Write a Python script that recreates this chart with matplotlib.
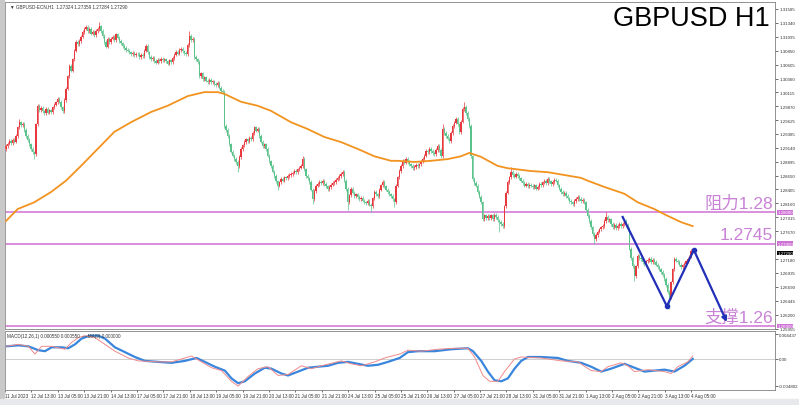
import numpy as np
import matplotlib.pyplot as plt
from matplotlib.patches import Rectangle

plt.rcParams['font.family'] = ['Liberation Sans', 'Noto Sans CJK SC', 'DejaVu Sans']

# H1 closes, price * 10000
close_pips = [
    12917, 12921, 12926, 12922, 12928, 12925, 12935, 12950, 12959, 12954,
    12956, 12945, 12935, 12928, 12920, 12912, 12906, 12903, 12955, 12988,
    12980, 12984, 12978, 12975, 12982, 12976, 12980, 12977, 12985, 12990,
    12994, 13000, 12995, 12985, 12979, 12998, 13018, 13040, 13058, 13050,
    13070, 13085, 13100, 13096, 13102, 13110, 13118, 13124, 13127, 13120,
    13123, 13115, 13118, 13112, 13120, 13123, 13128, 13120, 13111, 13100,
    13092, 13106, 13100, 13106, 13110, 13104, 13114, 13108, 13102, 13098,
    13093, 13090, 13086, 13085, 13082, 13079, 13081, 13077, 13080, 13079,
    13074, 13078, 13076, 13085, 13093, 13082, 13074, 13070, 13072, 13067,
    13064, 13069, 13067, 13071, 13068, 13070, 13066, 13062, 13068, 13065,
    13072, 13078, 13083, 13080, 13086, 13088, 13084, 13081, 13079, 13095,
    13111, 13104, 13106, 13074, 13070, 13065, 13040, 13045, 13035, 13038,
    13032, 13030, 13034, 13029, 13031, 13026, 13024, 13028, 13020, 13014,
    13012, 12952, 12945, 12935, 12920, 12907, 12900, 12894, 12889, 12882,
    12898, 12912, 12918, 12924, 12929, 12926, 12932, 12929, 12940, 12950,
    12944, 12947, 12935, 12925, 12917, 12920, 12912, 12900, 12890, 12882,
    12872, 12864, 12855, 12847, 12853, 12859, 12856, 12862, 12860, 12864,
    12866, 12868, 12870, 12873, 12871, 12876, 12879, 12882, 12894, 12876,
    12864, 12860, 12854, 12840, 12824, 12838, 12847, 12850, 12854, 12852,
    12856, 12850, 12846, 12841, 12845, 12849, 12852, 12854, 12858, 12861,
    12864, 12868, 12871, 12856, 12841, 12818, 12830, 12841, 12835, 12829,
    12832, 12827, 12824, 12826, 12821, 12818, 12816, 12820, 12814, 12811,
    12825, 12836, 12832, 12829, 12840, 12848, 12854, 12846, 12840, 12836,
    12832, 12829, 12823, 12818, 12847, 12862, 12873, 12882, 12891, 12888,
    12894, 12889, 12885, 12882, 12878, 12880, 12884, 12881, 12885, 12890,
    12894, 12900, 12908, 12906, 12912, 12908, 12905, 12903, 12910, 12917,
    12910, 12899, 12947, 12940, 12935, 12930, 12926, 12940, 12952, 12958,
    12965, 12955, 12942, 12960, 12982, 12986, 12975, 12965, 12952, 12899,
    12859, 12852, 12847, 12836, 12828, 12818, 12788, 12795, 12790, 12794,
    12790, 12795, 12788, 12796, 12792, 12786, 12783, 12780, 12776, 12811,
    12835, 12854, 12862, 12871, 12866, 12863, 12868, 12864, 12860, 12856,
    12852, 12847, 12850, 12846, 12849, 12847, 12844, 12848, 12842, 12845,
    12850, 12848, 12853, 12856, 12852, 12859, 12855, 12850, 12854, 12858,
    12856, 12848, 12842, 12836, 12832, 12834, 12829, 12825, 12820, 12818,
    12815, 12820, 12824, 12827, 12824, 12820, 12822, 12818, 12805, 12794,
    12785, 12774, 12762, 12753, 12760, 12766, 12770, 12774, 12776, 12785,
    12792, 12786, 12788, 12780, 12774, 12778, 12772, 12776, 12780, 12776,
    12780, 12785, 12778, 12771, 12736, 12720, 12706, 12688, 12705, 12723,
    12720, 12718, 12712, 12709, 12714, 12716, 12718, 12712, 12716, 12713,
    12708, 12704, 12700, 12695, 12690, 12683, 12672, 12660, 12650, 12677,
    12700, 12718, 12715, 12713, 12708, 12704, 12707, 12709, 12714, 12718,
    12722, 12732, 12729,
]
first_open = 12912
wick = 3  # usual wick length in pips
high_spikes = {8: 12965, 56: 13135, 110: 13120, 178: 12900, 262: 12955,
               275: 12995, 303: 12880, 360: 12800, 412: 12736}
low_spikes = {17: 12895, 139: 12872, 163: 12840, 184: 12815, 205: 12805,
              219: 12800, 233: 12810, 296: 12765, 353: 12745, 377: 12680,
              398: 12630, 412: 12728}

# orange moving average (bar index, price*10000)
ma_idx = [0, 7, 17, 27, 36, 45, 55, 65, 75, 87, 97, 109, 119, 127, 131, 141,
          151, 159, 171, 181, 191, 201, 211, 221, 231, 235, 245, 255, 265, 273,
          278, 285, 295, 301, 315, 325, 335, 345, 349, 359, 371, 379, 389, 397,
          405, 412]
ma_pips = [12785, 12806, 12818, 12836, 12856, 12882, 12912, 12942, 12959, 12977,
           12988, 13005, 13012, 13012, 13009, 12995, 12988, 12979, 12959, 12947,
           12933, 12924, 12912, 12899, 12891, 12891, 12889, 12891, 12894, 12899,
           12905, 12898, 12882, 12878, 12873, 12871, 12866, 12861, 12856, 12845,
           12833, 12818, 12806, 12794, 12783, 12776]

# MACD panel, values * 10000
blue_idx = [0, 7, 13, 19, 23, 27, 33, 37, 41, 45, 50, 55, 59, 65, 71, 77, 83, 91,
            99, 107, 114, 119, 125, 131, 135, 139, 143, 149, 155, 159, 165, 169,
            175, 181, 187, 193, 199, 205, 211, 217, 223, 229, 236, 241, 247, 257,
            267, 277, 280, 285, 289, 293, 297, 301, 305, 309, 313, 321, 331, 337,
            345, 351, 357, 363, 371, 377, 383, 389, 395, 401, 407, 412]
blue_vals = [22.8, 24.5, 22.8, 15.8, 14, 21, 21, 19.3, 26.3, 36.8, 42, 42, 36.8,
             21, 12.3, 3.5, -3.5, -5.3, -7, -3.5, 1.8, -5.3, -14, -21, -35, -43.8,
             -40.3, -26.3, -15.8, -17.5, -26.3, -29.8, -22.8, -15.8, -14, -12.3,
             -7, -5.3, -8.8, -12.3, -10.5, -5.3, 1.8, 12.3, 14, 14, 17.5, 19.3,
             14, -3.5, -22.8, -38.5, -40.3, -35, -17.5, -3.5, 3.5, 3.5, 1.8, -3.5,
             -7, -14, -22.8, -17.5, -8.8, -15.8, -22.8, -21, -19.3, -22.8, -12.3, 0]
red_idx = [0, 7, 13, 17, 21, 27, 35, 39, 43, 47, 53, 59, 65, 73, 79, 91, 99, 105,
           111, 117, 123, 129, 135, 139, 145, 151, 157, 163, 169, 177, 183, 189,
           201, 207, 213, 221, 227, 236, 241, 249, 259, 269, 277, 281, 286, 290,
           295, 299, 305, 309, 321, 333, 343, 351, 357, 361, 369, 373, 377, 385,
           395, 399, 403, 409, 412]
red_vals = [22.8, 26.3, 22.8, 8.8, 22.8, 22.8, 17.5, 29.8, 38.5, 42, 38.5, 26.3,
            14, 1.8, -3.5, -5.3, -5.3, 0, 5.3, -5.3, -15.8, -21, -40.3, -49,
            -31.5, -17.5, -14, -29.8, -28, -12.3, -17.5, -12.3, -3.5, -8.8, -12.3,
            -5.3, 1.8, 8.8, 15.8, 14, 17.5, 19.3, 19.3, 3.5, -29.8, -40.3, -40.3,
            -22.8, 0, 3.5, 1.8, -3.5, -5.3, -21, -22.8, -14, -7, -12.3, -22.8,
            -19.3, -22.8, -26.3, -14, -5.3, 5.3]

# hand-drawn blue zigzag
zig_idx = [370, 396.5, 412.7, 432.5]
zig_pips = [12792, 12635, 12734, 12607]

levels = [1.28, 1.2745, 1.26]
level_boxes = ['1.28000', '1.27450', '1.26000']
level_texts = ['阻力1.28', '1.2745', '支撑1.26']

date_labels = ['11 Jul 2023', '12 Jul 13:00', '13 Jul 05:00', '13 Jul 21:00',
               '14 Jul 13:00', '17 Jul 05:00', '17 Jul 21:00', '18 Jul 13:00',
               '19 Jul 05:00', '19 Jul 21:00', '20 Jul 13:00', '21 Jul 05:00',
               '21 Jul 21:00', '24 Jul 13:00', '25 Jul 05:00', '25 Jul 21:00',
               '26 Jul 13:00', '27 Jul 05:00', '27 Jul 21:00', '28 Jul 13:00',
               '31 Jul 05:00', '31 Jul 21:00', '1 Aug 13:00', '2 Aug 05:00',
               '2 Aug 21:00', '3 Aug 13:00', '4 Aug 05:00']
price_ticks = [1.31585, 1.31340, 1.31095, 1.30850, 1.30605, 1.30360, 1.30115,
               1.29870, 1.29625, 1.29385, 1.29140, 1.28895, 1.28650, 1.28405,
               1.28160, 1.27915, 1.27670, 1.27180, 1.26935, 1.26690, 1.26445,
               1.26200, 1.25955]

RED = '#e8383d'
GREEN = '#5cc28c'
VIOLET = '#cf72d6'
TEXT_VIOLET = '#c982d6'
BLUE = '#2230b8'

closes = np.array(close_pips) / 1e4
opens = np.r_[first_open, close_pips[:-1]] / 1e4
n = len(closes)
x = np.arange(n)
highs = np.maximum(opens, closes) + wick / 1e4
lows = np.minimum(opens, closes) - wick / 1e4
for k, v in high_spikes.items():
    highs[k] = v / 1e4
for k, v in low_spikes.items():
    lows[k] = v / 1e4
cols = np.where(closes >= opens, RED, GREEN)

fig = plt.figure(figsize=(7.99, 4.06), dpi=100)
ax = fig.add_axes([5 / 799, 1 - 330 / 406, 770 / 799, 327 / 406])
ax2 = fig.add_axes([5 / 799, 1 - 391 / 406, 770 / 799, 59 / 406])

# frame pieces of the terminal window
fig.patches.append(Rectangle((0, 0.015), 4 / 799, 0.985, transform=fig.transFigure,
                             color='#c9c9c9', zorder=0))
fig.patches.append(Rectangle((0, 0), 1, 6 / 406, transform=fig.transFigure,
                             color='#e7e9ed', zorder=0))

xmin, xmax = -0.6, 461.4

# candles
ax.vlines(x, lows, highs, colors=cols, lw=0.5, zorder=2)
ax.bar(x, np.maximum(np.abs(closes - opens), 0.00005), bottom=np.minimum(opens, closes),
       width=0.65, color=cols, linewidth=0, zorder=3)

ax.plot(ma_idx, np.array(ma_pips) / 1e4, color='#f2931f', lw=1.3, zorder=4)

for lvl in levels:
    ax.axhline(lvl, color=VIOLET, lw=1.1, zorder=1)

# zigzag with dots and arrow head
zy = np.array(zig_pips) / 1e4
ax.plot(zig_idx[:3], zy[:3], color=BLUE, lw=1.6, zorder=6)
ax.plot(zig_idx[1:3], zy[1:3], 'o', color=BLUE, ms=3, zorder=7)
ax.annotate('', xy=(zig_idx[3], zy[3]), xytext=(zig_idx[2], zy[2]),
            arrowprops=dict(arrowstyle='-|>', color=BLUE, lw=1.6,
                            mutation_scale=7, shrinkA=0, shrinkB=0), zorder=6)

ax.set_xlim(xmin, xmax)
ax.set_ylim(1.25947, 1.31708)
ax.set_xticks([])
ax.yaxis.tick_right()
ax.set_yticks(price_ticks)
ax.set_yticklabels([f'{t:.5f}' for t in price_ticks])
ax.tick_params(axis='y', labelsize=3.2, length=2, width=0.5, pad=1, colors='#333333')

ytr = ax.get_yaxis_transform()
for lvl, box in zip(levels, level_boxes):
    ax.text(1.003, lvl, box, transform=ytr, fontsize=3.2, color='white', va='center',
            ha='left', clip_on=False,
            bbox=dict(boxstyle='square,pad=0.05', fc=VIOLET, ec='none'))
ax.text(1.003, closes[-1], f'{closes[-1]:.5f}', transform=ytr, fontsize=3.2,
        color='white', va='center', ha='left', clip_on=False,
        bbox=dict(boxstyle='square,pad=0.05', fc='black', ec='none'))

for lvl, txt in zip(levels, level_texts):
    ax.text(0.997, lvl + 0.00025, txt, transform=ytr, fontsize=12.5, color=TEXT_VIOLET,
            ha='right', va='bottom', zorder=5)

for sp in ax.spines.values():
    sp.set_color('#808080')
    sp.set_linewidth(0.6)

fig.text(770 / 799, 1 - 19 / 406, 'GBPUSD H1', fontsize=19.5, ha='right', va='center',
         color='black')
fig.text(10 / 799, 1 - 7 / 406, '▼ GBPUSD-ECN,H1  1.27324 1.27359 1.27284 1.27290',
         fontsize=3.3, ha='left', va='center', color='#333333')

# MACD panel
ax2.axhline(0, color='#c8c8c8', lw=0.6, zorder=1)
ax2.plot(red_idx, np.array(red_vals) / 1e4, color='#f08a8a', lw=0.7, zorder=3)
ax2.plot(blue_idx, np.array(blue_vals) / 1e4, color='#3a86dc', lw=1.6, zorder=2)
ax2.set_xlim(xmin, xmax)
ax2.set_ylim(-0.0056, 0.00504)
ax2.yaxis.tick_right()
ax2.set_yticks([0.004437, 0.0, -0.004802])
ax2.set_yticklabels(['0.004437', '0.00', '-0.004802'])
ax2.tick_params(axis='y', labelsize=3.2, length=2, width=0.5, pad=1, colors='#333333')
bars_per_label = 15.85
ax2.set_xticks(np.arange(len(date_labels)) * bars_per_label - 1)
ax2.set_xticklabels(date_labels, ha='left')
ax2.tick_params(axis='x', labelsize=3.3, length=1.5, width=0.5, pad=0.8, colors='#333333')
ax2.text(0.002, 0.93, 'MACD(12,26,1) 0.000550 0.000550  ~~MA(9) 0.000000',
         transform=ax2.transAxes, fontsize=3.3, ha='left', va='center', color='#333333')
for sp in ax2.spines.values():
    sp.set_color('#808080')
    sp.set_linewidth(0.6)

fig.savefig('out.png', dpi=100, facecolor='white')
